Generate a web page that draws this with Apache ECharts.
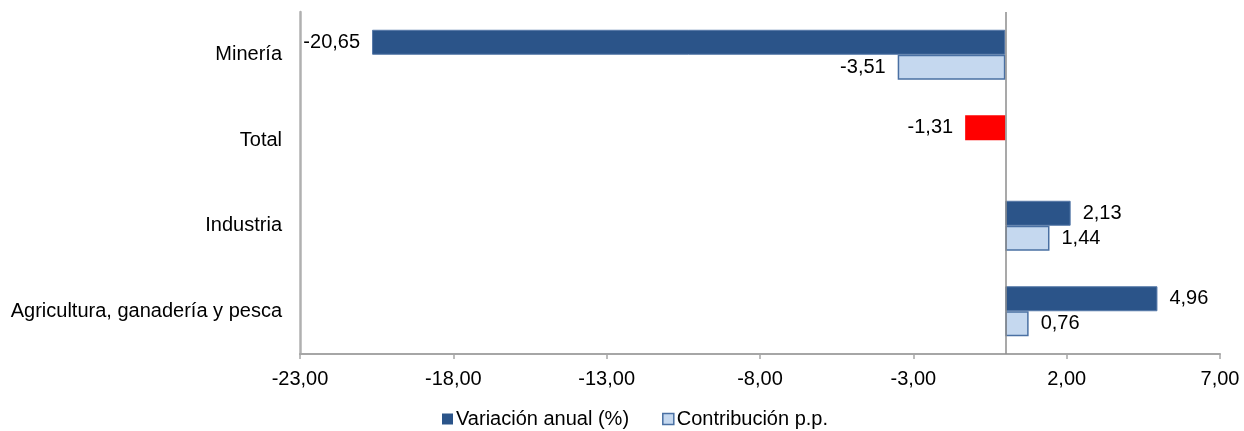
<!DOCTYPE html>
<html>
<head>
<meta charset="utf-8">
<script src="https://cdn.jsdelivr.net/npm/echarts@6/dist/echarts.min.js"></script>
<style>html,body{margin:0;padding:0;background:#fff}#c{width:1244px;height:431px}</style>
</head>
<body>
<div id="c"></div>
<script>
const categories = ['Minería', 'Total', 'Industria', 'Agricultura, ganadería y pesca'];
const variacion = [-20.65, -1.31, 2.13, 4.96];
const contribucion = [-3.51, null, 1.44, 0.76];
const totalIndex = 1;
const xTicks = { min: -23, max: 7, interval: 5 };

const fmt = v => (v == null ? '' : Number(v).toFixed(2).replace('.', ','));
const FONT = 'Liberation Sans, Arial, sans-serif';
const FS = 20;

const chart = echarts.init(document.getElementById('c'));
const labelCfg = {
  show: true,
  color: '#000',
  fontSize: FS,
  fontFamily: FONT,
  distance: 12,
  formatter: p => fmt(p.value)
};
function items(arr, style) {
  return arr.map((v, i) => ({
    value: v,
    label: { position: v < 0 ? 'left' : 'right' },
    itemStyle: style(i)
  }));
}
chart.setOption({
  animation: false,
  grid: { left: 300, right: 24, top: 12, bottom: 77 },
  legend: {
    top: 409,
    left: 442,
    padding: 0,
    itemGap: 33,
    itemWidth: 11,
    itemHeight: 11,
    icon: 'rect',
    textStyle: { fontSize: FS, fontFamily: FONT, color: '#000', padding: [0, 0, 0, -2] },
    data: [
      { name: 'Variación anual (%)', itemStyle: { color: '#2B5489', borderColor: '#2B5489' } },
      { name: 'Contribución p.p.', itemStyle: { color: '#C5D8EF', borderColor: '#4A70A3', borderWidth: 1.5 } }
    ]
  },
  xAxis: {
    type: 'value',
    min: xTicks.min,
    max: xTicks.max,
    interval: xTicks.interval,
    axisLine: { show: true, onZero: false, lineStyle: { color: '#A6A6A6', width: 2 } },
    axisTick: { show: true, length: 5, lineStyle: { color: '#A6A6A6', width: 1.5 } },
    splitLine: { show: false },
    axisLabel: { formatter: fmt, fontSize: FS, fontFamily: FONT, color: '#000', margin: 15 }
  },
  yAxis: {
    type: 'category',
    data: categories,
    inverse: true,
    axisLine: { show: true, onZero: false, lineStyle: { color: '#B0B0B0', width: 2.5 } },
    axisTick: { show: false },
    axisLabel: { fontSize: FS, fontFamily: FONT, color: '#000', margin: 18 }
  },
  series: [
    {
      name: 'Variación anual (%)',
      type: 'bar',
      barWidth: 25,
      barGap: '0%',
      label: labelCfg,
      data: items(variacion, i => i === totalIndex
        ? { color: '#FF0000', borderColor: '#FF0000', borderWidth: 0 }
        : { color: '#2B5489', borderColor: '#5578A8', borderWidth: 1 }),
      markLine: {
        silent: true,
        symbol: 'none',
        label: { show: false },
        lineStyle: { color: '#8C8C8C', width: 1.5, type: 'solid' },
        data: [{ xAxis: 0 }]
      }
    },
    {
      name: 'Contribución p.p.',
      type: 'bar',
      barWidth: 25,
      barGap: '0%',
      label: labelCfg,
      data: items(contribucion, () => ({ color: '#C5D8EF', borderColor: '#4A70A3', borderWidth: 1.5 }))
    }
  ]
});
</script>
</body>
</html>
